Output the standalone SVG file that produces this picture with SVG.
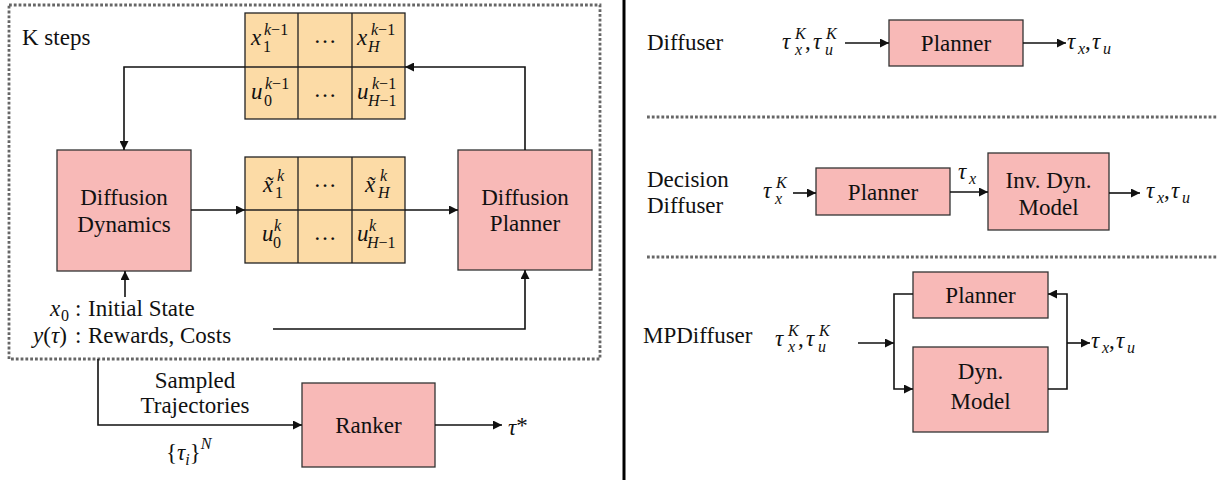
<svg xmlns="http://www.w3.org/2000/svg" width="1217" height="480" viewBox="0 0 1217 480">
<defs>
<marker id="ah" viewBox="0 0 10 10" refX="10" refY="5" markerWidth="11" markerHeight="9" markerUnits="userSpaceOnUse" orient="auto">
<path d="M0,0 L10,5 L0,10 z" fill="#111"/>
</marker>
</defs>
<rect width="1217" height="480" fill="#fff"/>

<g id="frame">
<rect x="9" y="5" width="591" height="354" fill="none" stroke="#666" stroke-width="2.8" stroke-dasharray="2.8 2"/>
<text font-family="Liberation Serif" font-size="23" fill="#111" x="22" y="45">K steps</text>
<line x1="624" y1="0" x2="624" y2="480" stroke="#000" stroke-width="3"/>
<line x1="647" y1="117" x2="1217" y2="117" stroke="#666" stroke-width="2.8" stroke-dasharray="2.8 2"/>
<line x1="647" y1="257" x2="1217" y2="257" stroke="#666" stroke-width="2.8" stroke-dasharray="2.8 2"/>
</g>

<g id="grid-prev">
<rect x="245" y="13" width="160" height="106" fill="#FCDBA6" stroke="#222" stroke-width="1.3"/>
<path d="M298,13 V119 M352,13 V119 M245,67 H405" fill="none" stroke="#222" stroke-width="1.3"/>
<text font-family="Liberation Serif" font-size="23" fill="#111"><tspan x="251" y="45" font-style="italic">x</tspan><tspan x="264" y="35" font-size="16"><tspan font-style="italic">k</tspan>−1</tspan><tspan x="263" y="52" font-size="16">1</tspan></text>
<text font-family="Liberation Serif" font-size="23" fill="#111" x="325" y="43" text-anchor="middle">…</text>
<text font-family="Liberation Serif" font-size="23" fill="#111"><tspan x="357" y="45" font-style="italic">x</tspan><tspan x="371" y="35" font-size="16"><tspan font-style="italic">k</tspan>−1</tspan><tspan x="368" y="52" font-size="16" font-style="italic">H</tspan></text>
<text font-family="Liberation Serif" font-size="23" fill="#111"><tspan x="251" y="99" font-style="italic">u</tspan><tspan x="265" y="89" font-size="16"><tspan font-style="italic">k</tspan>−1</tspan><tspan x="264" y="106" font-size="16">0</tspan></text>
<text font-family="Liberation Serif" font-size="23" fill="#111" x="325" y="97" text-anchor="middle">…</text>
<text font-family="Liberation Serif" font-size="23" fill="#111"><tspan x="357" y="99" font-style="italic">u</tspan><tspan x="372" y="89" font-size="16"><tspan font-style="italic">k</tspan>−1</tspan><tspan x="368" y="106" font-size="16"><tspan font-style="italic">H</tspan>−1</tspan></text>
</g>

<g id="grid-curr">
<rect x="245" y="157" width="160" height="106" fill="#FCDBA6" stroke="#222" stroke-width="1.3"/>
<path d="M298,157 V263 M352,157 V263 M245,210 H405" fill="none" stroke="#222" stroke-width="1.3"/>
<text font-family="Liberation Serif" font-size="23" fill="#111"><tspan x="263" y="192" font-style="italic">x̃</tspan><tspan x="277" y="181" font-size="16" font-style="italic">k</tspan><tspan x="275" y="198" font-size="16">1</tspan></text>
<text font-family="Liberation Serif" font-size="23" fill="#111" x="325" y="187" text-anchor="middle">…</text>
<text font-family="Liberation Serif" font-size="23" fill="#111"><tspan x="365" y="192" font-style="italic">x̃</tspan><tspan x="380" y="181" font-size="16" font-style="italic">k</tspan><tspan x="378" y="198" font-size="16" font-style="italic">H</tspan></text>
<text font-family="Liberation Serif" font-size="23" fill="#111"><tspan x="262" y="241" font-style="italic">u</tspan><tspan x="274" y="231" font-size="16" font-style="italic">k</tspan><tspan x="273" y="248" font-size="16">0</tspan></text>
<text font-family="Liberation Serif" font-size="23" fill="#111" x="325" y="240" text-anchor="middle">…</text>
<text font-family="Liberation Serif" font-size="23" fill="#111"><tspan x="357" y="241" font-style="italic">u</tspan><tspan x="369" y="231" font-size="16" font-style="italic">k</tspan><tspan x="367" y="248" font-size="16"><tspan font-style="italic">H</tspan>−1</tspan></text>
</g>

<g id="diffusion-dynamics">
<rect x="57" y="150" width="134" height="121" fill="#F8B9B7" stroke="#333" stroke-width="1.3"/>
<text font-family="Liberation Serif" font-size="23" fill="#111" x="124" y="205" text-anchor="middle">Diffusion</text>
<text font-family="Liberation Serif" font-size="23" fill="#111" x="124" y="232" text-anchor="middle">Dynamics</text>
</g>

<g id="diffusion-planner">
<rect x="458" y="150" width="134" height="120" fill="#F8B9B7" stroke="#333" stroke-width="1.3"/>
<text font-family="Liberation Serif" font-size="23" fill="#111" x="525" y="205" text-anchor="middle">Diffusion</text>
<text font-family="Liberation Serif" font-size="23" fill="#111" x="525" y="231" text-anchor="middle">Planner</text>
</g>

<g id="inputs">
<text font-family="Liberation Serif" font-size="23" fill="#111"><tspan x="50" y="316" font-style="italic">x</tspan><tspan x="61" y="321" font-size="16">0</tspan><tspan x="75" y="316">:</tspan><tspan x="88" y="316">Initial State</tspan></text>
<text font-family="Liberation Serif" font-size="23" fill="#111"><tspan x="33" y="343" font-style="italic">y</tspan><tspan>(</tspan><tspan font-style="italic">τ</tspan><tspan>)</tspan><tspan x="75" y="343">:</tspan><tspan x="88" y="343">Rewards, Costs</tspan></text>
</g>

<g id="ranker">
<rect x="302" y="383" width="133" height="84" fill="#F8B9B7" stroke="#333" stroke-width="1.3"/>
<text font-family="Liberation Serif" font-size="23" fill="#111" x="368.5" y="433" text-anchor="middle">Ranker</text>
</g>

<g id="labels-left">
<text font-family="Liberation Serif" font-size="23" fill="#111" x="195" y="388" text-anchor="middle">Sampled</text>
<text font-family="Liberation Serif" font-size="23" fill="#111" x="195" y="413" text-anchor="middle">Trajectories</text>
<text font-family="Liberation Serif" font-size="23" fill="#111"><tspan x="166" y="460">{</tspan><tspan font-style="italic">τ</tspan><tspan font-size="16" font-style="italic" y="465">i</tspan><tspan y="460">}</tspan><tspan font-size="16" font-style="italic" y="449">N</tspan></text>
<text font-family="Liberation Serif" font-size="23" fill="#111"><tspan x="508" y="435" font-style="italic">τ</tspan><tspan y="433">*</tspan></text>
</g>

<g id="diffuser-row">
<text font-family="Liberation Serif" font-size="23" fill="#111" x="647" y="50">Diffuser</text>
<text font-family="Liberation Serif" font-size="23" fill="#111"><tspan x="782" y="49" font-style="italic">τ</tspan><tspan x="795" y="39" font-size="16" font-style="italic">K</tspan><tspan x="795" y="55" font-size="16" font-style="italic">x</tspan><tspan x="805" y="49">,</tspan><tspan x="813" y="49" font-style="italic">τ</tspan><tspan x="826" y="39" font-size="16" font-style="italic">K</tspan><tspan x="825" y="55" font-size="16" font-style="italic">u</tspan></text>
<g id="planner-1">
<rect x="889" y="20" width="134" height="46" fill="#F8B9B7" stroke="#333" stroke-width="1.3"/>
<text font-family="Liberation Serif" font-size="23" fill="#111" x="956" y="51" text-anchor="middle">Planner</text>
</g>
<text font-family="Liberation Serif" font-size="23" fill="#111"><tspan x="1067" y="49" font-style="italic">τ</tspan><tspan x="1078" y="54" font-size="16" font-style="italic">x</tspan><tspan x="1085" y="49">,</tspan><tspan x="1092" y="49" font-style="italic">τ</tspan><tspan x="1103" y="54" font-size="16" font-style="italic">u</tspan></text>
</g>

<g id="decision-row">
<text font-family="Liberation Serif" font-size="23" fill="#111" x="647" y="187">Decision</text>
<text font-family="Liberation Serif" font-size="23" fill="#111" x="647" y="213">Diffuser</text>
<text font-family="Liberation Serif" font-size="23" fill="#111"><tspan x="763" y="198" font-style="italic">τ</tspan><tspan x="776" y="188" font-size="16" font-style="italic">K</tspan><tspan x="775" y="204" font-size="16" font-style="italic">x</tspan></text>
<g id="planner-2">
<rect x="816" y="168" width="134" height="47" fill="#F8B9B7" stroke="#333" stroke-width="1.3"/>
<text font-family="Liberation Serif" font-size="23" fill="#111" x="883" y="200" text-anchor="middle">Planner</text>
</g>
<text font-family="Liberation Serif" font-size="23" fill="#111"><tspan x="958" y="179" font-style="italic">τ</tspan><tspan x="969" y="184" font-size="16" font-style="italic">x</tspan></text>
<g id="inv-dyn-model">
<rect x="988" y="153" width="121" height="77" fill="#F8B9B7" stroke="#333" stroke-width="1.3"/>
<text font-family="Liberation Serif" font-size="23" fill="#111" x="1048.5" y="188" text-anchor="middle">Inv. Dyn.</text>
<text font-family="Liberation Serif" font-size="23" fill="#111" x="1048.5" y="215" text-anchor="middle">Model</text>
</g>
<text font-family="Liberation Serif" font-size="23" fill="#111"><tspan x="1146" y="198" font-style="italic">τ</tspan><tspan x="1157" y="203" font-size="16" font-style="italic">x</tspan><tspan x="1164" y="198">,</tspan><tspan x="1171" y="198" font-style="italic">τ</tspan><tspan x="1182" y="203" font-size="16" font-style="italic">u</tspan></text>
</g>

<g id="mpdiffuser-row">
<text font-family="Liberation Serif" font-size="23" fill="#111" x="643" y="343">MPDiffuser</text>
<text font-family="Liberation Serif" font-size="23" fill="#111"><tspan x="775" y="346" font-style="italic">τ</tspan><tspan x="788" y="336" font-size="16" font-style="italic">K</tspan><tspan x="788" y="352" font-size="16" font-style="italic">x</tspan><tspan x="798" y="346">,</tspan><tspan x="806" y="346" font-style="italic">τ</tspan><tspan x="819" y="336" font-size="16" font-style="italic">K</tspan><tspan x="818" y="352" font-size="16" font-style="italic">u</tspan></text>
<g id="planner-3">
<rect x="913" y="272" width="135" height="46" fill="#F8B9B7" stroke="#333" stroke-width="1.3"/>
<text font-family="Liberation Serif" font-size="23" fill="#111" x="980.5" y="303" text-anchor="middle">Planner</text>
</g>
<g id="dyn-model">
<rect x="913" y="347" width="135" height="85" fill="#F8B9B7" stroke="#333" stroke-width="1.3"/>
<text font-family="Liberation Serif" font-size="23" fill="#111" x="980.5" y="379" text-anchor="middle">Dyn.</text>
<text font-family="Liberation Serif" font-size="23" fill="#111" x="980.5" y="409" text-anchor="middle">Model</text>
</g>
<text font-family="Liberation Serif" font-size="23" fill="#111"><tspan x="1091" y="348" font-style="italic">τ</tspan><tspan x="1102" y="353" font-size="16" font-style="italic">x</tspan><tspan x="1109" y="348">,</tspan><tspan x="1116" y="348" font-style="italic">τ</tspan><tspan x="1127" y="353" font-size="16" font-style="italic">u</tspan></text>
</g>

<g id="connectors" fill="none" stroke="#111" stroke-width="1.6" marker-end="url(#ah)">
<path d="M245,67 H124 V150"/>
<path d="M525,150 V67 H405"/>
<path d="M191,210 H245"/>
<path d="M405,210 H458"/>
<path d="M125,297 V271"/>
<path d="M273,329 H525 V270"/>
<path d="M98,359 V425 H302"/>
<path d="M435,425 H502"/>
<path d="M845,43 H889"/>
<path d="M1023,43 H1066"/>
<path d="M793,193 H816"/>
<path d="M950,192 H988"/>
<path d="M1109,193 H1140"/>
<path d="M858,343 H894"/>
<path d="M913,294 H894 V389 H913"/>
<path d="M1048,389 H1067 V294 H1048"/>
<path d="M1067,343 H1090"/>
</g>
</svg>
